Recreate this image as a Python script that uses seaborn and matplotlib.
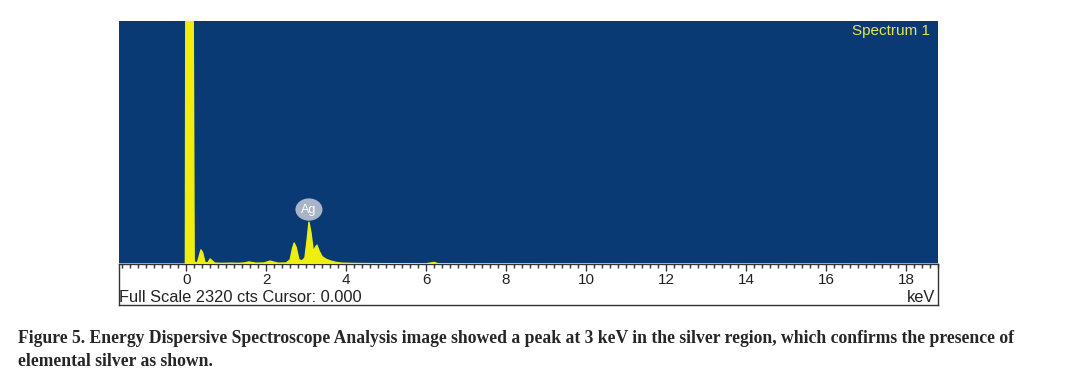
import numpy as np
import pandas as pd
import matplotlib
matplotlib.use("Agg")
import matplotlib.pyplot as plt
import seaborn as sns

# spectrum values (keV, counts)
energy = [-1.7, -0.02, 0.0, 0.03, 0.12, 0.15, 0.2, 0.28, 0.33, 0.37, 0.41, 0.47,
          0.54, 0.6, 0.65, 0.72, 0.9, 1.1, 1.3, 1.45, 1.52, 1.57, 1.63, 1.75,
          1.95, 2.05, 2.1, 2.17, 2.3, 2.5, 2.6, 2.66, 2.7, 2.75, 2.82, 2.9,
          2.97, 3.03, 3.07, 3.12, 3.18, 3.23, 3.27, 3.33, 3.4, 3.5, 3.6, 3.75,
          3.9, 4.2, 4.6, 5.0, 6.0, 6.2, 6.3, 7.0, 19.0]
counts = [0, 0, 5000, 5000, 5000, 5000, 20, 10, 80, 135, 110, 15,
          10, 48, 30, 8, 6, 8, 6, 10, 15, 20, 15, 8,
          10, 22, 28, 20, 8, 10, 40, 150, 200, 160, 40, 30,
          60, 250, 400, 300, 120, 160, 180, 120, 70, 45, 30, 15,
          8, 5, 4, 3, 2, 15, 2, 1, 0]

tick_values = [0, 2, 4, 6, 8, 10, 12, 14, 16, 18]
full_scale = 2320
spectrum_name = "Spectrum 1"
peak_label = "Ag"
peak_energy = 3.07
peak_counts = 400
caption = ("Figure 5. Energy Dispersive Spectroscope Analysis image showed a peak at 3 keV in the silver region, "
           "which confirms the presence of\nelemental silver as shown.")

df = pd.DataFrame({"energy": energy, "counts": counts})

sns.set_style("white")
plt.rcParams["font.family"] = ["Liberation Sans", "DejaVu Sans"]

fig = plt.figure(figsize=(10.66, 3.82), dpi=100)
blue = "#0a3a74"
yellow = "#eeee10"

# blue spectrum panel
ax = fig.add_axes([119 / 1066, 1 - 264 / 382, 819 / 1066, 243 / 382])
ax.set_facecolor(blue)
ax.fill_between(df["energy"], df["counts"], color=yellow, lw=0)
sns.lineplot(data=df, x="energy", y="counts", color=yellow, lw=1, ax=ax, sort=False)
ax.set_xlim(-1.68, 18.8)
ax.set_ylim(0, full_scale)
ax.set_xlabel("")
ax.set_ylabel("")
ax.set_yticks([])
ax.set_xticks(tick_values)
ax.set_xticks(np.arange(-1.6, 18.81, 0.2), minor=True)
ax.tick_params(axis="x", which="major", direction="out", length=5, width=1, color="#333333",
               pad=1.5, labelsize=11, labelcolor="#222222", bottom=True)
ax.tick_params(axis="x", which="minor", direction="out", length=3, width=1, color="#333333", bottom=True)
for s in ax.spines.values():
    s.set_visible(False)
ax.set_zorder(3)

ax.text(peak_energy, peak_counts + 120, peak_label, color="white", fontsize=9,
        ha="center", va="center",
        bbox=dict(boxstyle="ellipse,pad=0.15", fc="#a8b4c8", ec="none"))
ax.text(0.99, 0.96, spectrum_name, transform=ax.transAxes, color="#e4e45a",
        fontsize=11, ha="right", va="center")

# white scale strip under the spectrum
strip = fig.add_axes([119 / 1066, 1 - 305 / 382, 819 / 1066, 41 / 382])
strip.set_facecolor("white")
strip.set_xticks([])
strip.set_yticks([])
for s in strip.spines.values():
    s.set_visible(True)
    s.set_color("#333333")
    s.set_linewidth(1)
strip.text(0.0, 0.19, "Full Scale %d cts Cursor: 0.000" % full_scale, transform=strip.transAxes,
           fontsize=11.8, color="#222222", ha="left", va="center")
strip.text(0.997, 0.19, "keV", transform=strip.transAxes,
           fontsize=11.8, color="#222222", ha="right", va="center")

fig.text(18 / 1066, 1 - 330 / 382, caption, fontsize=12.7, fontweight="bold",
         family="Liberation Serif", ha="left", va="top", linespacing=1.45)

fig.savefig("out.png", dpi=100)
